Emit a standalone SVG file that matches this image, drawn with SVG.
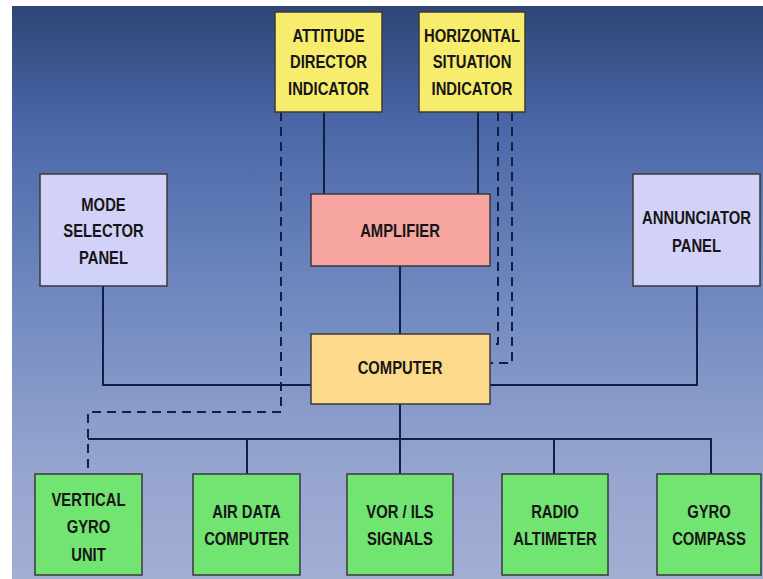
<svg xmlns="http://www.w3.org/2000/svg" width="763" height="579" viewBox="0 0 763 579">
<defs>
<linearGradient id="bg" x1="0" y1="0" x2="0" y2="1">
<stop offset="0" stop-color="#2f4576"/>
<stop offset="0.2" stop-color="#4a66a6"/>
<stop offset="0.5" stop-color="#6f88bf"/>
<stop offset="0.8" stop-color="#95a4cf"/>
<stop offset="1" stop-color="#a3aed3"/>
</linearGradient>
</defs>
<style>
.box{stroke:#3a3a3a;stroke-width:1.5}
.yel{fill:#f8ec6c}
.amp{fill:#f7a5a1}
.cmp{fill:#fdd98c}
.lav{fill:#d2d2f8}
.grn{fill:#72e472}
.ln{fill:none;stroke:#0f1f45;stroke-width:2}
.ds{fill:none;stroke:#0f1f45;stroke-width:2;stroke-dasharray:9,6}
text{font-family:"Liberation Sans",Arial,sans-serif;font-weight:bold;font-size:19px;fill:#161616;text-anchor:middle}
</style>
<rect width="763" height="579" fill="#ffffff"/>
<rect x="12" y="6" width="751" height="573" fill="url(#bg)"/>
<g id="connectors">
<path class="ln" d="M324 112V194"/>
<path class="ln" d="M478 112V194"/>
<path class="ln" d="M400 266V334"/>
<path class="ln" d="M103 286V385H311"/>
<path class="ln" d="M697 286V385H490"/>
<path class="ln" d="M400 404V474"/>
<path class="ln" d="M88 439H711V474"/>
<path class="ln" d="M247 439V474"/>
<path class="ln" d="M554 439V474"/>
<path class="ds" d="M498 112V344H490"/>
<path class="ds" d="M512 112V363H490"/>
<path class="ds" d="M281 112V412H88V474"/>
</g>
<g id="adi"><rect class="box yel" x="275" y="12" width="107" height="100"/>
<text transform="translate(328.5 42) scale(0.78 1)">ATTITUDE</text><text transform="translate(328.5 68) scale(0.78 1)">DIRECTOR</text><text transform="translate(328.5 95) scale(0.78 1)">INDICATOR</text></g>
<g id="hsi"><rect class="box yel" x="419" y="12" width="106" height="100"/>
<text transform="translate(472 42) scale(0.78 1)">HORIZONTAL</text><text transform="translate(472 68) scale(0.78 1)">SITUATION</text><text transform="translate(472 95) scale(0.78 1)">INDICATOR</text></g>
<g id="amplifier"><rect class="box amp" x="311" y="194" width="179" height="72"/>
<text transform="translate(400 237) scale(0.78 1)">AMPLIFIER</text></g>
<g id="computer"><rect class="box cmp" x="311" y="334" width="179" height="70"/>
<text transform="translate(400 374) scale(0.78 1)">COMPUTER</text></g>
<g id="mode"><rect class="box lav" x="40" y="174" width="127" height="112"/>
<text transform="translate(103.5 211) scale(0.78 1)">MODE</text><text transform="translate(103.5 237) scale(0.78 1)">SELECTOR</text><text transform="translate(103.5 264) scale(0.78 1)">PANEL</text></g>
<g id="annunciator"><rect class="box lav" x="633" y="174" width="127" height="112"/>
<text transform="translate(696.5 224) scale(0.78 1)">ANNUNCIATOR</text><text transform="translate(696.5 252) scale(0.78 1)">PANEL</text></g>
<g id="vgu"><rect class="box grn" x="35" y="474" width="107" height="101"/>
<text transform="translate(88.5 506) scale(0.78 1)">VERTICAL</text><text transform="translate(88.5 533) scale(0.78 1)">GYRO</text><text transform="translate(88.5 561) scale(0.78 1)">UNIT</text></g>
<g id="adc"><rect class="box grn" x="193" y="474" width="107" height="101"/>
<text transform="translate(246.5 518) scale(0.78 1)">AIR DATA</text><text transform="translate(246.5 545) scale(0.78 1)">COMPUTER</text></g>
<g id="vor"><rect class="box grn" x="347" y="474" width="106" height="101"/>
<text transform="translate(400 518) scale(0.78 1)">VOR / ILS</text><text transform="translate(400 545) scale(0.78 1)">SIGNALS</text></g>
<g id="radio"><rect class="box grn" x="502" y="474" width="106" height="101"/>
<text transform="translate(555 518) scale(0.78 1)">RADIO</text><text transform="translate(555 545) scale(0.78 1)">ALTIMETER</text></g>
<g id="gyrocompass"><rect class="box grn" x="657" y="474" width="104" height="101"/>
<text transform="translate(709 518) scale(0.78 1)">GYRO</text><text transform="translate(709 545) scale(0.78 1)">COMPASS</text></g>
</svg>
